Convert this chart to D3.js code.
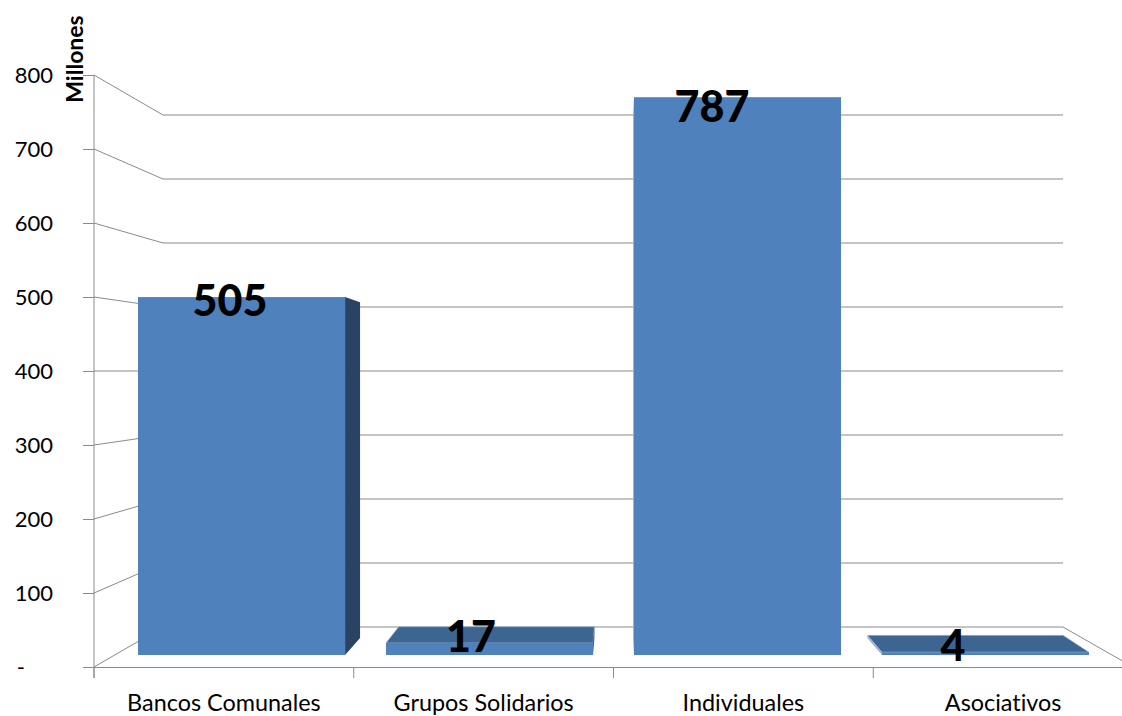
<!DOCTYPE html>
<html>
<head>
<meta charset="utf-8">
<script src="https://cdn.jsdelivr.net/npm/d3@7"></script>
<style>
  html, body { margin: 0; padding: 0; background: #fff; }
  svg { display: block; font-family: Lato, "Open Sans", sans-serif; font-variant-ligatures: none; }
</style>
</head>
<body>
<svg id="chart" width="1122" height="716"></svg>
<script>
const categories = ["Bancos Comunales", "Grupos Solidarios", "Individuales", "Asociativos"];
const values = [505, 17, 787, 4];
const yTicks = [0, 100, 200, 300, 400, 500, 600, 700, 800];

const rows = categories.map((c, i) => ({ category: c, value: values[i] }));
const svg = d3.select("#chart");

// Colours
const gridColor = "#8a8a8a";
const frontColor = "#4f81bd";
const topColor = "#3d6592";
const rightColor = "#2a4365";
const leftColor = "#9db2cd";

// Value scales, one per depth plane of the fake 3D box
const yFront = d3.scaleLinear().domain([0, 800]).range([667, 75]);
const yBack = d3.scaleLinear().domain([0, 800]).range([627, 115]);
const yBarFront = d3.scaleLinear().domain([0, 800]).range([655, 88]);
const yBarBack = d3.scaleLinear().domain([0, 800]).range([638, 106]);
const yLabel = d3.scaleLinear().domain([0, 800]).range([648, 98]);

// Horizontal scales
const xAxis = d3.scaleBand().domain(categories).range([94, 1133]);
const xBar = d3.scaleBand().domain(categories).range([138, 1089]).paddingInner(0.165);
const xBarBack = d3.scaleLinear().domain([345, 1089]).range([360, 1063]);
const xLabel = d3.scaleLinear().domain([241.5, 985.5]).range([230, 953]);
const wallLeft = 163;
const wallRight = 1063;

// Walls
const grid = svg.append("g").attr("fill", "none").attr("stroke", gridColor).attr("stroke-width", 1);
grid.selectAll(".wall")
  .data(yTicks)
  .join("polyline")
  .attr("class", "wall")
  .attr("points", (d) => [[xAxis.range()[0], yFront(d)], [wallLeft, yBack(d)], [wallRight, yBack(d)]].join(" "));
grid.append("line")
  .attr("x1", wallRight).attr("y1", yBack(0))
  .attr("x2", xAxis.range()[1]).attr("y2", yFront(0));

// Bars
const poly = (pts) => pts.map((p) => p.join(",")).join(" ");
const bars = svg.append("g").selectAll("g").data(rows).join("g");

bars.each(function (d) {
  const g = d3.select(this);
  const l = xBar(d.category);
  const r = l + xBar.bandwidth();
  const bl = xBarBack(l);
  const br = xBarBack(r);
  const y0 = yBarFront(0);
  const y1 = yBarFront(d.value);
  const by0 = yBarBack(0);
  const by1 = yBarBack(d.value);

  // only the faces turned to the camera get drawn
  if (by1 < y1) {
    g.append("polygon").attr("fill", topColor)
      .attr("stroke", "#a9bcd6").attr("stroke-width", 0.6)
      .attr("points", poly([[l, y1], [bl, by1], [br, by1], [r, y1]]));
  }
  if (br > r) {
    g.append("polygon").attr("fill", rightColor)
      .attr("points", poly([[r, y0], [br, by0], [br, by1], [r, y1]]));
  }
  if (bl < l) {
    g.append("polygon").attr("fill", leftColor)
      .attr("points", poly([[l, y0], [bl, by0], [bl, by1], [l, y1]]));
  }
  g.append("rect")
    .attr("x", l).attr("y", y1)
    .attr("width", r - l).attr("height", y0 - y1)
    .attr("fill", frontColor);
});

// Axes
const leftAxis = svg.append("g")
  .attr("transform", `translate(${xAxis.range()[0]},0)`)
  .call(d3.axisLeft(yFront).tickValues(yTicks).tickSize(11).tickPadding(30)
    .tickFormat((d) => (d === 0 ? "-" : d)));
leftAxis.select(".domain").attr("d", `M0,${yFront(800)}V${yFront(0) + 11}`);
leftAxis.selectAll(".tick text")
  .attr("dx", (d) => (d === 0 ? -28 : 0))
  .style("font-size", "22px").style("font-family", "Lato").attr("fill", "#000");

const bottomAxis = svg.append("g")
  .attr("transform", `translate(0,${yFront(0)})`)
  .call(d3.axisBottom(xAxis).tickSize(0).tickSizeOuter(0).tickPadding(27));
bottomAxis.selectAll(".tick text")
  .style("font-size", "23.4px").style("font-family", "Lato").attr("fill", "#000");
bottomAxis.selectAll(".edge")
  .data(categories)
  .join("line")
  .attr("class", "edge")
  .attr("x1", (d) => xAxis(d)).attr("x2", (d) => xAxis(d))
  .attr("y1", 0).attr("y2", 11);
svg.selectAll(".domain, .tick line, .edge").attr("stroke", gridColor).attr("stroke-width", 1);

// Data labels
svg.append("g").selectAll("text")
  .data(rows)
  .join("text")
  .attr("x", (d) => xLabel(xBar(d.category) + xBar.bandwidth() / 2))
  .attr("y", (d) => yLabel(d.value))
  .attr("dy", "0.36em")
  .attr("text-anchor", "middle")
  .attr("font-size", 43)
  .attr("font-weight", 900)
  .attr("fill", "#000")
  .text((d) => d.value);

// Unit title
svg.append("text")
  .attr("transform", "translate(83,59) rotate(-90)")
  .attr("text-anchor", "middle")
  .attr("font-size", 23)
  .attr("font-weight", 700)
  .attr("fill", "#000")
  .text("Millones");
</script>
</body>
</html>
